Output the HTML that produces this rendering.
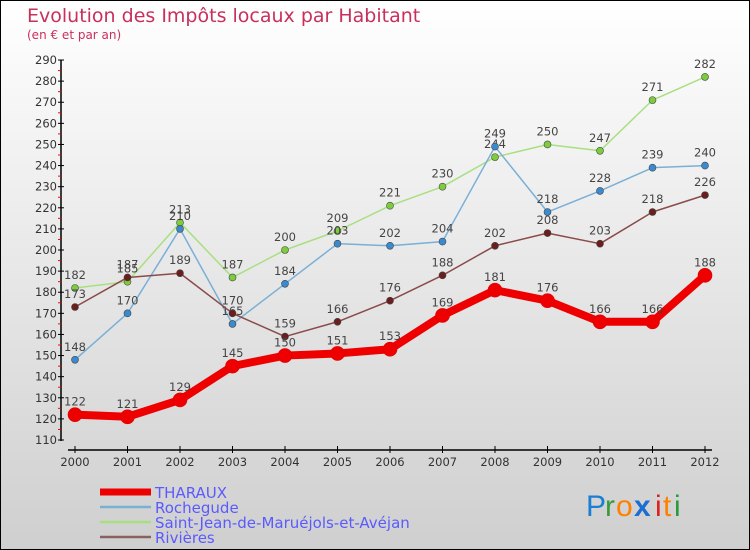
<!DOCTYPE html>
<html><head><meta charset="utf-8"><style>
body{margin:0}
#c{width:750px;height:550px;position:relative;overflow:hidden;font-family:"DejaVu Sans","Liberation Sans",sans-serif}
</style></head><body>
<div id="c">
<svg id="s" width="750" height="550" xmlns="http://www.w3.org/2000/svg">
<defs><linearGradient id="bg" x1="0" y1="0" x2="0" y2="1"><stop offset="0" stop-color="#ffffff"/><stop offset="1" stop-color="#cfcfcf"/></linearGradient></defs>
<rect x="0.5" y="0.5" width="749" height="549" fill="url(#bg)" stroke="#000"/>
<text x="27" y="22" font-size="19" fill="#c8305a">Evolution des Impôts locaux par Habitant</text>
<text x="27" y="39" font-size="12" fill="#c8305a">(en € et par an)</text>
<g id="axes"></g><g id="series"></g><g id="legend"></g>
<g font-size="30" font-family="'Liberation Sans',sans-serif">
<text x="586" y="516" fill="#1a7fd4">P</text><text x="605" y="516" fill="#3a9a3a">r</text><text x="616" y="516" fill="#ff8000">o</text><text x="634" y="516" fill="#1a6fd0" font-weight="bold">x</text><text x="655" y="516" fill="#e02020">i</text><text x="663" y="516" fill="#ff8000">t</text><text x="674" y="516" fill="#2a9a3a">i</text>
</g>
</svg></div>
<script>
const years=["2000","2001","2002","2003","2004","2005","2006","2007","2008","2009","2010","2011","2012"];
const yTicks=[110,120,130,140,150,160,170,180,190,200,210,220,230,240,250,260,270,280,290];
const seriesNames=["THARAUX","Rochegude","Saint-Jean-de-Maruéjols-et-Avéjan","Rivières"];
const tharaux=[122,121,129,145,150,151,153,169,181,176,166,166,188];
const rochegude=[148,170,210,165,184,203,202,204,249,218,228,239,240];
const saintJean=[182,185,213,187,200,209,221,230,244,250,247,271,282];
const rivieres=[173,187,189,170,159,166,176,188,202,208,203,218,226];
const NS="http://www.w3.org/2000/svg";
function X(i){return 75+i*52.5;}
function Y(v){return 440-(v-110)*2.111;}
function mk(tag,attrs,parent){const e=document.createElementNS(NS,tag);for(const k in attrs)e.setAttribute(k,attrs[k]);parent.appendChild(e);return e;}
const ax=document.getElementById('axes');
const ya=mk('line',{x1:61,y1:Y(290),x2:61,y2:441,stroke:'#000','stroke-width':1.5},ax);


yTicks.forEach(v=>{
 mk('line',{x1:58,x2:64,y1:Y(v),y2:Y(v),stroke:'#000'},ax);
 if(v<290) mk('line',{x1:58,x2:61,y1:Y(v+5),y2:Y(v+5),stroke:'#f00'},ax);
 const t=mk('text',{x:57,y:Y(v)+4,'font-size':11.5,'text-anchor':'end',fill:'#333'},ax);
 t.textContent=v;
 
 
});
const xa=mk('line',{x1:68,y1:450,x2:712,y2:450,stroke:'#000','stroke-width':1.5},ax);


years.forEach((y,i)=>{
 mk('line',{x1:X(i),x2:X(i),y1:446,y2:453,stroke:'#000'},ax);
 const t=mk('text',{x:X(i),y:466,'font-size':11.5,'text-anchor':'middle',fill:'#333'},ax);
 t.textContent=y;
 
 
});
const sg=document.getElementById('series');
const defs=[[saintJean,'#a8e080','#7ccc3c',1.5,3.5,'saint-jean'],[rochegude,'#7aafd6','#3a8ad0',1.5,3.5,'rochegude'],[rivieres,'#8b4a4a','#6a1e1e',1.5,3.5,'rivieres'],[tharaux,'#ee0000','#ee0000',8,7,'tharaux']];
defs.forEach(([d,lc,pc,w,r,n])=>{
 const g=mk('g',{},sg);
 
 
 const p=mk('polyline',{points:d.map((v,i)=>X(i)+','+Y(v)).join(' '),fill:'none',stroke:lc,'stroke-width':w,'stroke-linejoin':'round'},g);
 
 
 d.forEach((v,i)=>{
  const c=mk('circle',{cx:X(i),cy:Y(v),r:r,fill:pc,stroke:n==='tharaux'?'#d00':'#444','stroke-width':0.6},g);
  
  
  const t=mk('text',{x:X(i),y:Y(v)-9,'font-size':11.5,'text-anchor':'middle',fill:'#444'},g);
  t.textContent=v;
  
  
 });
});
const lg=document.getElementById('legend');
const lc=['#ee0000','#7aafd6','#a8e080','#8b6060'];
seriesNames.forEach((n,i)=>{
 const y=492+i*15;
 const g=mk('g',{},lg);
 
 
 mk('line',{x1:100,x2:151,y1:y,y2:y,stroke:lc[i],'stroke-width':i===0?7:2.5},g);
 const t=mk('text',{x:155,y:y+6,'font-size':15,fill:'#5a5aff'},g);
 t.textContent=n;
});
</script>
</body></html>
